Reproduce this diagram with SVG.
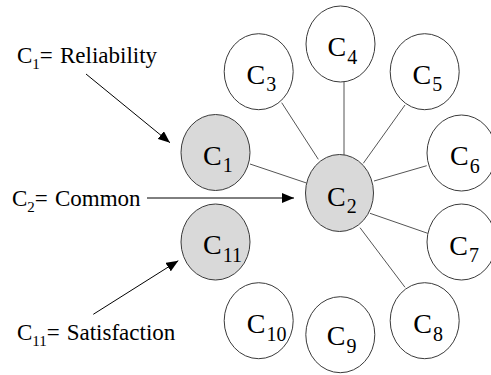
<svg xmlns="http://www.w3.org/2000/svg" width="491" height="375" viewBox="0 0 491 375">
  <defs>
    <marker id="head" markerUnits="userSpaceOnUse" markerWidth="12" markerHeight="10" refX="12" refY="5" orient="auto">
      <path d="M0,0 L12,5 L0,10 Z" fill="#000"/>
    </marker>
  </defs>
  <style>
    .node { fill: #fff; stroke: #3a3a3a; stroke-width: 1; }
    .key { fill: #d9d9d9; }
    .edge { stroke: #555; stroke-width: 1; fill: none; }
    .arrow { stroke: #000; stroke-width: 1; fill: none; marker-end: url(#head); }
    .nl { font-size: 28px; }
    .nl .sub { font-size: 20px; }
    .cap { font-size: 23px; }
    .cap .sub { font-size: 15px; }
  </style>
  <rect width="491" height="375" fill="#fff"/>

  <!-- links from the central criterion -->
  <g id="connectors">
    <line class="edge" x1="250" y1="164" x2="306.5" y2="183"/>
    <line class="edge" x1="281.7" y1="102.7" x2="318.3" y2="159.3"/>
    <line class="edge" x1="344" y1="82" x2="344" y2="155"/>
    <line class="edge" x1="405" y1="105" x2="363.3" y2="163.3"/>
    <line class="edge" x1="374" y1="181" x2="426.7" y2="165.7"/>
    <line class="edge" x1="370" y1="213.3" x2="427.7" y2="233.3"/>
    <line class="edge" x1="360" y1="227.7" x2="405" y2="287.3"/>
    <line class="arrow" x1="86" y1="74" x2="170" y2="142.7"/>
    <line class="arrow" x1="147" y1="198" x2="294" y2="198"/>
    <line class="arrow" x1="93.3" y1="314.3" x2="178.3" y2="260.7"/>
  </g>

  <g font-family="'Liberation Serif', 'DejaVu Serif', serif" fill="#000">
    <g id="c1">
      <ellipse class="node key" cx="215.5" cy="152.5" rx="34.5" ry="38"/>
      <text class="nl" x="203" y="164.5">C<tspan class="sub" dx="1" dy="7.5">1</tspan></text>
    </g>
    <g id="c11">
      <ellipse class="node key" cx="215.5" cy="242" rx="34.5" ry="38"/>
      <text class="nl" x="203" y="254">C<tspan class="sub" dx="1" dy="7.5">11</tspan></text>
    </g>
    <g id="c2">
      <ellipse class="node key" cx="339.5" cy="193" rx="34" ry="38.5"/>
      <text class="nl" x="327" y="205.5">C<tspan class="sub" dx="1" dy="7.5">2</tspan></text>
    </g>
    <g id="c3">
      <ellipse class="node" cx="258.7" cy="71.7" rx="34.5" ry="38"/>
      <text class="nl" x="246.5" y="83.5">C<tspan class="sub" dx="1" dy="7.5">3</tspan></text>
    </g>
    <g id="c4">
      <ellipse class="node" cx="340.5" cy="44" rx="34.5" ry="38"/>
      <text class="nl" x="327.5" y="56">C<tspan class="sub" dx="1" dy="7.5">4</tspan></text>
    </g>
    <g id="c5">
      <ellipse class="node" cx="424.7" cy="71.7" rx="34.5" ry="38"/>
      <text class="nl" x="412.5" y="83.5">C<tspan class="sub" dx="1" dy="7.5">5</tspan></text>
    </g>
    <g id="c6">
      <ellipse class="node" cx="461.5" cy="153" rx="34.5" ry="38"/>
      <text class="nl" x="450" y="165">C<tspan class="sub" dx="1" dy="7.5">6</tspan></text>
    </g>
    <g id="c7">
      <ellipse class="node" cx="461.5" cy="242" rx="34.5" ry="38"/>
      <text class="nl" x="449.3" y="254.5">C<tspan class="sub" dx="1" dy="7.5">7</tspan></text>
    </g>
    <g id="c8">
      <ellipse class="node" cx="424.7" cy="320.7" rx="34.5" ry="38"/>
      <text class="nl" x="413.3" y="333">C<tspan class="sub" dx="1" dy="7.5">8</tspan></text>
    </g>
    <g id="c9">
      <ellipse class="node" cx="340.3" cy="334.7" rx="34.5" ry="38"/>
      <text class="nl" x="326.7" y="345">C<tspan class="sub" dx="1" dy="7.5">9</tspan></text>
    </g>
    <g id="c10">
      <ellipse class="node" cx="258.7" cy="320.7" rx="34.5" ry="38"/>
      <text class="nl" x="246.7" y="333">C<tspan class="sub" dx="1" dy="7.5">10</tspan></text>
    </g>

    <!-- criterion captions -->
    <g id="cap-reliability">
      <text class="cap" x="17" y="62.7">C<tspan class="sub" dy="6">1</tspan><tspan dy="-6">=</tspan><tspan x="60">Reliability</tspan></text>
    </g>
    <g id="cap-common">
      <text class="cap" x="12" y="206">C<tspan class="sub" dy="6">2</tspan><tspan dy="-6">=</tspan><tspan x="55">Common</tspan></text>
    </g>
    <g id="cap-satisfaction">
      <text class="cap" x="17" y="340">C<tspan class="sub" dy="6">11</tspan><tspan dy="-6">=</tspan><tspan x="66.7">Satisfaction</tspan></text>
    </g>
  </g>
</svg>
